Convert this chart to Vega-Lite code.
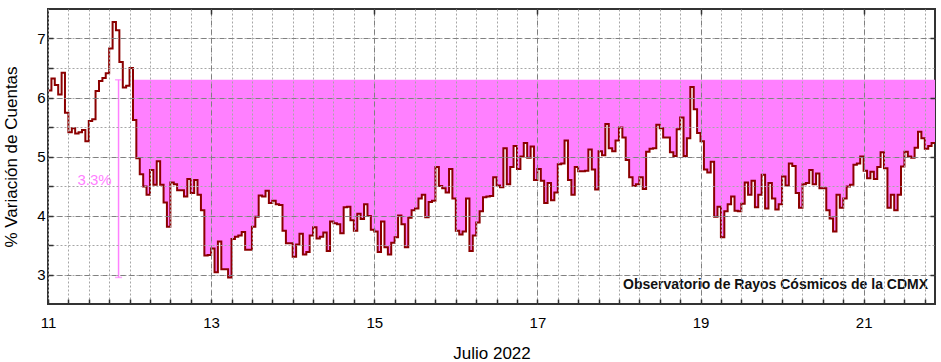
{
"$schema": "https://vega.github.io/schema/vega-lite/v6.json",
"width": 887, "height": 295,
"autosize": {"type": "none"},
"padding": {"left": 48, "top": 9, "right": 6, "bottom": 58},
"background": "white",
"config": {"view": {"stroke": "#333333", "strokeWidth": 2}, "font": "Liberation Sans"},
"datasets": {
"series": [
{"d":11.000,"v":6.12},{"d":11.042,"v":6.32},{"d":11.083,"v":6.21},{"d":11.125,"v":6.05},{"d":11.167,"v":6.42},{"d":11.208,"v":5.74},{"d":11.25,"v":5.41},{"d":11.292,"v":5.48},{"d":11.333,"v":5.39},{"d":11.375,"v":5.41},{"d":11.417,"v":5.45},{"d":11.458,"v":5.26},{"d":11.5,"v":5.60},{"d":11.542,"v":5.63},{"d":11.583,"v":6.11},{"d":11.625,"v":6.28},{"d":11.667,"v":6.33},{"d":11.708,"v":6.41},{"d":11.75,"v":6.83},{"d":11.792,"v":7.28},{"d":11.833,"v":7.14},{"d":11.875,"v":6.60},{"d":11.917,"v":6.17},{"d":11.958,"v":6.20},
{"d":12.0,"v":6.50},{"d":12.042,"v":5.62},{"d":12.083,"v":4.97},{"d":12.125,"v":4.70},{"d":12.167,"v":4.49},{"d":12.208,"v":4.35},{"d":12.25,"v":4.77},{"d":12.292,"v":4.52},{"d":12.333,"v":4.92},{"d":12.375,"v":4.52},{"d":12.417,"v":4.22},{"d":12.458,"v":3.81},{"d":12.5,"v":4.56},{"d":12.542,"v":4.53},{"d":12.583,"v":4.43},{"d":12.625,"v":4.43},{"d":12.667,"v":4.32},{"d":12.708,"v":4.62},{"d":12.75,"v":4.38},{"d":12.792,"v":4.60},{"d":12.833,"v":4.35},{"d":12.875,"v":4.09},{"d":12.917,"v":3.32},{"d":12.958,"v":3.33},
{"d":13.0,"v":3.44},{"d":13.042,"v":3.04},{"d":13.083,"v":3.56},{"d":13.125,"v":3.09},{"d":13.167,"v":3.09},{"d":13.208,"v":2.95},{"d":13.25,"v":3.60},{"d":13.292,"v":3.64},{"d":13.333,"v":3.66},{"d":13.375,"v":3.72},{"d":13.417,"v":3.42},{"d":13.458,"v":3.42},{"d":13.5,"v":3.81},{"d":13.542,"v":3.98},{"d":13.583,"v":4.34},{"d":13.625,"v":4.32},{"d":13.667,"v":4.42},{"d":13.708,"v":4.21},{"d":13.75,"v":4.25},{"d":13.792,"v":4.19},{"d":13.833,"v":4.18},{"d":13.875,"v":3.74},{"d":13.917,"v":3.53},{"d":13.958,"v":3.53},
{"d":14.0,"v":3.30},{"d":14.042,"v":3.51},{"d":14.083,"v":3.69},{"d":14.125,"v":3.34},{"d":14.167,"v":3.38},{"d":14.208,"v":3.66},{"d":14.25,"v":3.80},{"d":14.292,"v":3.61},{"d":14.333,"v":3.64},{"d":14.375,"v":3.71},{"d":14.417,"v":3.40},{"d":14.458,"v":3.90},{"d":14.5,"v":3.87},{"d":14.542,"v":3.85},{"d":14.583,"v":3.70},{"d":14.625,"v":4.14},{"d":14.667,"v":4.15},{"d":14.708,"v":3.92},{"d":14.75,"v":3.74},{"d":14.792,"v":4.03},{"d":14.833,"v":3.94},{"d":14.875,"v":4.19},{"d":14.917,"v":3.99},{"d":14.958,"v":3.76},
{"d":15.0,"v":3.73},{"d":15.042,"v":3.38},{"d":15.083,"v":3.90},{"d":15.125,"v":3.46},{"d":15.167,"v":3.34},{"d":15.208,"v":3.54},{"d":15.25,"v":3.63},{"d":15.292,"v":4.00},{"d":15.333,"v":3.85},{"d":15.375,"v":3.46},{"d":15.417,"v":3.96},{"d":15.458,"v":4.09},{"d":15.5,"v":4.12},{"d":15.542,"v":4.29},{"d":15.583,"v":4.35},{"d":15.625,"v":3.97},{"d":15.667,"v":4.23},{"d":15.708,"v":4.25},{"d":15.75,"v":4.82},{"d":15.792,"v":4.50},{"d":15.833,"v":4.46},{"d":15.875,"v":4.39},{"d":15.917,"v":4.79},{"d":15.958,"v":4.29},
{"d":16.0,"v":3.74},{"d":16.042,"v":3.68},{"d":16.083,"v":3.73},{"d":16.125,"v":4.29},{"d":16.167,"v":3.40},{"d":16.208,"v":3.66},{"d":16.25,"v":3.88},{"d":16.292,"v":4.07},{"d":16.333,"v":4.31},{"d":16.375,"v":4.32},{"d":16.417,"v":4.33},{"d":16.458,"v":4.65},{"d":16.5,"v":4.51},{"d":16.542,"v":4.48},{"d":16.583,"v":5.14},{"d":16.625,"v":4.53},{"d":16.667,"v":4.82},{"d":16.708,"v":5.18},{"d":16.75,"v":4.79},{"d":16.792,"v":5.00},{"d":16.833,"v":5.23},{"d":16.875,"v":4.98},{"d":16.917,"v":5.17},{"d":16.958,"v":4.60},
{"d":17.0,"v":4.79},{"d":17.042,"v":4.59},{"d":17.083,"v":4.21},{"d":17.125,"v":4.55},{"d":17.167,"v":4.26},{"d":17.208,"v":4.39},{"d":17.25,"v":4.87},{"d":17.292,"v":4.88},{"d":17.333,"v":5.27},{"d":17.375,"v":4.60},{"d":17.417,"v":4.35},{"d":17.458,"v":4.82},{"d":17.5,"v":4.75},{"d":17.542,"v":4.75},{"d":17.583,"v":4.76},{"d":17.625,"v":5.12},{"d":17.667,"v":4.78},{"d":17.708,"v":4.44},{"d":17.75,"v":5.09},{"d":17.792,"v":5.02},{"d":17.833,"v":5.55},{"d":17.875,"v":5.14},{"d":17.917,"v":5.09},{"d":17.958,"v":5.27},
{"d":18.0,"v":5.49},{"d":18.042,"v":5.32},{"d":18.083,"v":4.94},{"d":18.125,"v":4.65},{"d":18.167,"v":4.50},{"d":18.208,"v":4.53},{"d":18.25,"v":4.65},{"d":18.292,"v":4.45},{"d":18.333,"v":5.08},{"d":18.375,"v":5.13},{"d":18.417,"v":5.14},{"d":18.458,"v":5.54},{"d":18.5,"v":5.48},{"d":18.542,"v":5.32},{"d":18.583,"v":5.32},{"d":18.625,"v":5.07},{"d":18.667,"v":5.01},{"d":18.708,"v":5.46},{"d":18.75,"v":5.66},{"d":18.792,"v":5.01},{"d":18.833,"v":5.31},{"d":18.875,"v":6.18},{"d":18.917,"v":5.80},{"d":18.958,"v":5.40},
{"d":19.0,"v":5.26},{"d":19.042,"v":4.78},{"d":19.083,"v":4.73},{"d":19.125,"v":4.91},{"d":19.167,"v":3.98},{"d":19.208,"v":4.15},{"d":19.25,"v":3.63},{"d":19.292,"v":4.07},{"d":19.333,"v":4.19},{"d":19.375,"v":4.32},{"d":19.417,"v":4.08},{"d":19.458,"v":4.07},{"d":19.5,"v":4.20},{"d":19.542,"v":4.56},{"d":19.583,"v":4.35},{"d":19.625,"v":4.59},{"d":19.667,"v":4.14},{"d":19.708,"v":4.35},{"d":19.75,"v":4.69},{"d":19.792,"v":4.12},{"d":19.833,"v":4.55},{"d":19.875,"v":4.29},{"d":19.917,"v":4.10},{"d":19.958,"v":4.19},
{"d":20.0,"v":4.66},{"d":20.042,"v":4.51},{"d":20.083,"v":4.88},{"d":20.125,"v":4.84},{"d":20.167,"v":4.38},{"d":20.208,"v":4.13},{"d":20.25,"v":4.53},{"d":20.292,"v":4.55},{"d":20.333,"v":4.77},{"d":20.375,"v":4.53},{"d":20.417,"v":4.71},{"d":20.458,"v":4.46},{"d":20.5,"v":4.46},{"d":20.542,"v":4.09},{"d":20.583,"v":3.95},{"d":20.625,"v":3.73},{"d":20.667,"v":4.35},{"d":20.708,"v":4.13},{"d":20.75,"v":4.29},{"d":20.792,"v":4.49},{"d":20.833,"v":4.52},{"d":20.875,"v":4.86},{"d":20.917,"v":4.88},{"d":20.958,"v":5.00},
{"d":21.0,"v":4.76},{"d":21.042,"v":4.63},{"d":21.083,"v":4.74},{"d":21.125,"v":4.62},{"d":21.167,"v":4.82},{"d":21.208,"v":5.07},{"d":21.25,"v":4.80},{"d":21.292,"v":4.13},{"d":21.333,"v":4.35},{"d":21.375,"v":4.09},{"d":21.417,"v":4.35},{"d":21.458,"v":4.83},{"d":21.5,"v":5.08},{"d":21.542,"v":5.00},{"d":21.583,"v":4.98},{"d":21.625,"v":5.15},{"d":21.667,"v":5.42},{"d":21.708,"v":5.31},{"d":21.75,"v":5.13},{"d":21.792,"v":5.18},{"d":21.833,"v":5.23},{"d":21.875,"v":5.23}
],
"bar": [{"x": 11.865, "y": 2.95, "y2": 6.3}],
"caps": [{"x": 11.865, "y": 2.95}, {"x": 11.865, "y": 6.3}],
"pct": [{"x": 11.571, "y": 4.52, "label": "3.3%"}],
"credit": [{"x": 21.79, "y": 2.748, "label": "Observatorio de Rayos Cósmicos de la CDMX"}]
},
"layer": [
{
"data": {"name": "series"},
"transform": [{"filter": "datum.d >= 12.04"}],
"mark": {"type": "area", "interpolate": "step-after", "color": "#ff80ff", "opacity": 1},
"encoding": {
"x": {"field": "d", "type": "quantitative", "scale": {"domain": [11, 21.875], "nice": false, "zero": false},
"axis": {"orient": "bottom",
"values": [11,11.25,11.5,11.75,12,12.25,12.5,12.75,13,13.25,13.5,13.75,14,14.25,14.5,14.75,15,15.25,15.5,15.75,16,16.25,16.5,16.75,17,17.25,17.5,17.75,18,18.25,18.5,18.75,19,19.25,19.5,19.75,20,20.25,20.5,20.75,21,21.25,21.5,21.75],
"labelExpr": "datum.value % 2 === 1 ? format(datum.value, 'd') : ''",
"labelFlush": false, "labelOverlap": false, "labelFontSize": 15, "labelColor": "#000000", "labelFont": "Liberation Sans",
"labelPadding": 16, "domain": false, "ticks": true, "tickSize": -5, "tickColor": "#333333", "tickWidth": 1.5,
"grid": true, "gridColor": "#a6a6a6", "gridDash": [2, 2], "gridWidth": 1, "gridOpacity": 1,
"title": "Julio 2022", "titleFontSize": 17, "titleFontWeight": "normal", "titleColor": "#000000", "titleFont": "Liberation Sans",
"titleX": 443.5, "titleY": 54, "titleBaseline": "alphabetic", "titleAlign": "center", "zindex": 1}},
"y": {"field": "v", "type": "quantitative", "stack": null, "scale": {"domain": [2.5, 7.5], "nice": false, "zero": false},
"axis": {"orient": "left",
"values": [3, 3.5, 4, 4.5, 5, 5.5, 6, 6.5, 7],
"labelExpr": "datum.value % 1 === 0 ? format(datum.value, 'd') : ''",
"labelOverlap": false, "labelFontSize": 15, "labelColor": "#000000", "labelFont": "Liberation Sans",
"labelPadding": 8, "domain": false, "ticks": true, "tickSize": -5, "tickColor": "#333333", "tickWidth": 1.5,
"grid": true, "gridColor": "#a6a6a6", "gridDash": [2, 2], "gridWidth": 1, "gridOpacity": 1,
"title": "% Variación de Cuentas", "titleFontSize": 17, "titleFontWeight": "normal", "titleColor": "#000000", "titleFont": "Liberation Sans",
"titleX": -32, "titleY": 147.5, "titleAngle": 270, "titleBaseline": "alphabetic", "titleAlign": "center", "zindex": 1}},
"y2": {"datum": 6.3}
}
},
{
"data": {"name": "series"},
"mark": {"type": "line", "interpolate": "step-after", "color": "#8b0000", "strokeWidth": 2},
"encoding": {
"x": {"field": "d", "type": "quantitative",
"axis": {"orient": "top", "values": [13, 15, 17, 19, 21],
"labels": false, "domain": false, "ticks": true, "tickSize": -5, "tickColor": "#333333", "tickWidth": 1.5,
"grid": true, "gridColor": "#808080", "gridDash": [5, 4], "gridWidth": 1, "gridOpacity": 1,
"title": null, "zindex": 1}},
"y": {"field": "v", "type": "quantitative",
"axis": {"orient": "right", "values": [3, 4, 5, 6, 7],
"labels": false, "domain": false, "ticks": true, "tickSize": -5, "tickColor": "#333333", "tickWidth": 1.5,
"grid": true, "gridColor": "#808080", "gridDash": [5, 4], "gridWidth": 1, "gridOpacity": 1,
"title": null, "zindex": 1}}
}
},
{
"data": {"name": "bar"},
"mark": {"type": "rule", "color": "#ff80ff", "strokeWidth": 1.5},
"encoding": {
"x": {"field": "x", "type": "quantitative", "axis": null},
"y": {"field": "y", "type": "quantitative", "axis": null},
"y2": {"field": "y2"}
}
},
{
"data": {"name": "caps"},
"mark": {"type": "tick", "orient": "horizontal", "color": "#ff80ff", "size": 7, "thickness": 1.5},
"encoding": {
"x": {"field": "x", "type": "quantitative", "axis": null},
"y": {"field": "y", "type": "quantitative", "axis": null}
}
},
{
"data": {"name": "pct"},
"mark": {"type": "text", "color": "#ff80ff", "fontSize": 15, "font": "Liberation Sans", "align": "center", "baseline": "alphabetic"},
"encoding": {
"x": {"field": "x", "type": "quantitative", "axis": null},
"y": {"field": "y", "type": "quantitative", "axis": null},
"text": {"field": "label"}
}
},
{
"data": {"name": "credit"},
"mark": {"type": "text", "color": "#111111", "fontSize": 14, "fontWeight": "bold", "font": "Liberation Sans", "align": "right", "baseline": "alphabetic"},
"encoding": {
"x": {"field": "x", "type": "quantitative", "axis": null},
"y": {"field": "y", "type": "quantitative", "axis": null},
"text": {"field": "label"}
}
}
],
"resolve": {"axis": {"x": "independent", "y": "independent"}}
}
